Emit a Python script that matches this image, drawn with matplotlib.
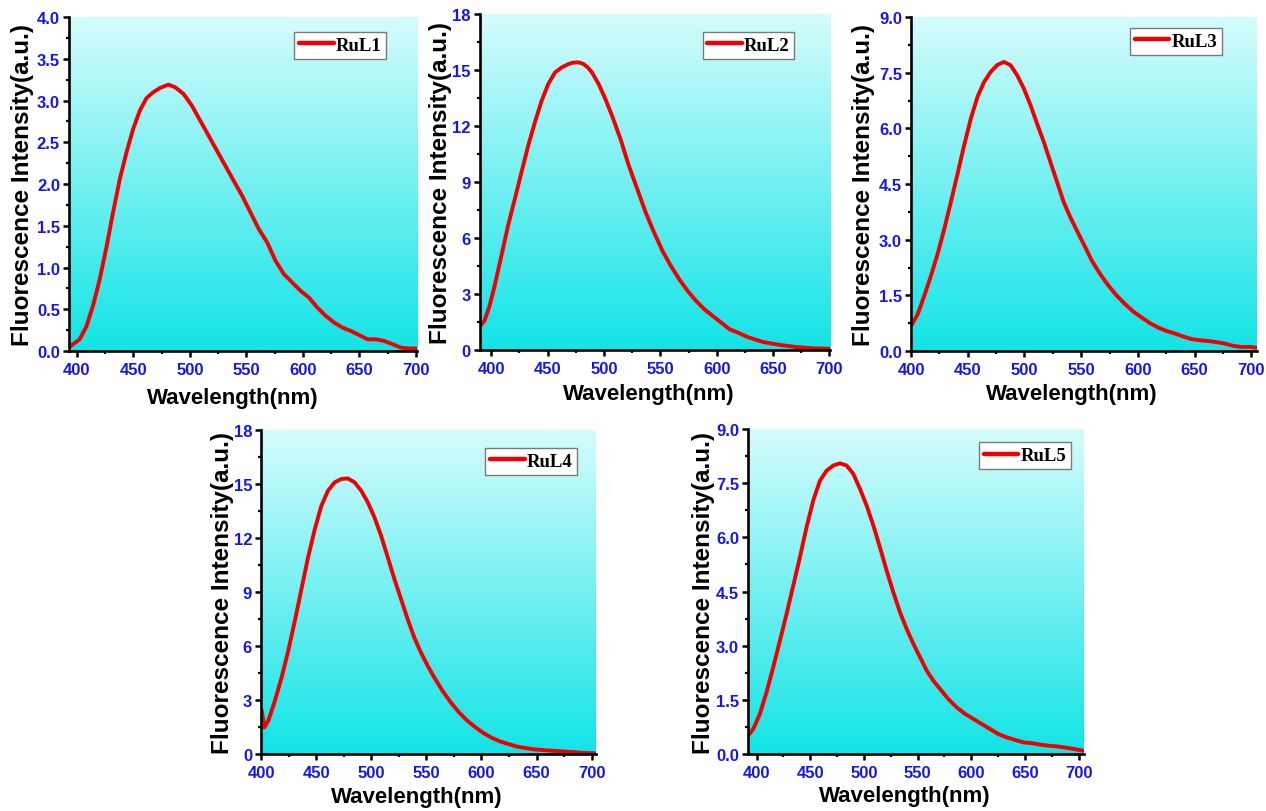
import numpy as np
import matplotlib
matplotlib.use("Agg")
import matplotlib.pyplot as plt
from matplotlib.ticker import MultipleLocator, FormatStrFormatter

# ---------------- data ----------------
labels = ["RuL1", "RuL2", "RuL3", "RuL4", "RuL5"]

wl1 = [393.5, 402.4, 408.3, 414.2, 420.2, 426.1, 432.0, 438.0, 443.9, 449.8, 455.7, 461.7,
       467.6, 473.5, 480.9, 486.9, 494.3, 501.7, 509.1, 516.5, 523.9, 531.3, 538.7, 546.2,
       553.6, 561.0, 568.4, 575.8, 583.2, 590.6, 598.0, 605.4, 612.8, 620.3, 627.7, 635.1,
       642.5, 649.9, 657.3, 664.7, 672.1, 679.5, 687.0, 694.4, 701.0]
in1 = [0.05, 0.14, 0.29, 0.54, 0.86, 1.24, 1.66, 2.06, 2.38, 2.66, 2.88, 3.03,
       3.10, 3.15, 3.19, 3.16, 3.08, 2.94, 2.76, 2.58, 2.40, 2.22, 2.04, 1.86,
       1.66, 1.46, 1.30, 1.08, 0.92, 0.82, 0.72, 0.64, 0.52, 0.42, 0.34, 0.28,
       0.24, 0.19, 0.14, 0.14, 0.12, 0.08, 0.04, 0.03, 0.03]

wl2 = [389.6, 394.0, 398.5, 403.0, 409.0, 414.9, 420.9, 426.8, 432.8, 438.7, 444.7, 450.6,
       456.6, 462.6, 468.5, 472.0, 476.0, 479.0, 481.9, 485.5, 489.4, 495.3, 501.3, 507.2,
       514.7, 522.1, 529.6, 537.0, 544.5, 551.9, 559.4, 566.8, 574.3, 581.7, 589.2, 596.6,
       604.0, 611.5, 619.0, 626.4, 633.8, 641.3, 656.2, 671.1, 686.0, 700.5]
in2 = [1.25, 1.56, 2.36, 3.43, 5.04, 6.65, 8.08, 9.51, 10.94, 12.19, 13.35, 14.25,
       14.87, 15.14, 15.32, 15.39, 15.41, 15.39, 15.32, 15.15, 14.87, 14.25, 13.44, 12.55,
       11.30, 9.87, 8.62, 7.37, 6.29, 5.31, 4.50, 3.79, 3.16, 2.63, 2.18, 1.82,
       1.47, 1.11, 0.93, 0.72, 0.57, 0.43, 0.27, 0.16, 0.09, 0.07]

wl3 = [400.9, 405.9, 411.7, 417.6, 423.4, 429.3, 435.1, 441.0, 446.8, 452.7, 458.5, 464.4,
       470.2, 476.1, 481.9, 487.8, 493.6, 499.5, 505.4, 511.2, 517.1, 522.9, 528.8, 534.6,
       540.5, 546.3, 552.2, 559.5, 566.8, 574.1, 581.4, 588.8, 596.1, 603.4, 610.7, 618.0,
       625.3, 632.7, 640.0, 647.3, 654.6, 661.9, 669.1, 676.6, 683.9, 691.2, 698.5, 704.4]
in3 = [0.72, 0.99, 1.49, 2.03, 2.61, 3.29, 4.01, 4.77, 5.54, 6.26, 6.84, 7.25,
       7.52, 7.71, 7.79, 7.70, 7.43, 7.07, 6.62, 6.12, 5.63, 5.09, 4.55, 4.01,
       3.60, 3.24, 2.88, 2.43, 2.07, 1.76, 1.49, 1.26, 1.06, 0.90, 0.75, 0.63,
       0.54, 0.47, 0.39, 0.32, 0.29, 0.27, 0.24, 0.20, 0.14, 0.11, 0.11, 0.09]

wl4 = [400.6, 403.0, 406.6, 412.6, 418.7, 424.7, 430.7, 436.7, 442.7, 448.8, 454.8, 460.8,
       466.8, 472.8, 478.8, 484.9, 490.9, 496.9, 502.9, 508.9, 515.0, 521.0, 527.0, 533.0,
       539.0, 545.0, 551.1, 557.1, 564.6, 572.1, 579.7, 587.2, 594.7, 602.2, 609.7, 617.3,
       632.3, 647.4, 662.4, 677.5, 692.6, 703.0]
in4 = [2.41, 1.48, 1.85, 2.96, 4.26, 5.74, 7.41, 9.17, 10.93, 12.50, 13.80, 14.63,
       15.09, 15.28, 15.31, 15.09, 14.63, 13.98, 13.15, 12.13, 10.93, 9.72, 8.61, 7.50,
       6.48, 5.65, 4.91, 4.26, 3.52, 2.87, 2.31, 1.85, 1.48, 1.15, 0.89, 0.69,
       0.41, 0.26, 0.19, 0.13, 0.06, 0.04]

wl5 = [393.2, 396.9, 403.1, 409.3, 415.5, 421.8, 428.0, 434.2, 440.4, 446.6, 452.8, 459.1,
       465.3, 471.5, 477.7, 483.9, 490.1, 496.4, 502.6, 508.8, 515.0, 521.2, 527.4, 533.7,
       539.9, 546.1, 552.3, 558.5, 564.7, 571.0, 578.7, 586.5, 594.3, 602.1, 609.8, 617.6,
       625.4, 633.1, 640.9, 648.7, 656.5, 664.2, 672.0, 679.8, 687.5, 695.3, 704.6]
in5 = [0.55, 0.69, 1.11, 1.71, 2.40, 3.14, 3.88, 4.66, 5.45, 6.28, 7.02, 7.57,
       7.85, 7.99, 8.05, 7.99, 7.76, 7.34, 6.88, 6.33, 5.72, 5.08, 4.48, 3.92,
       3.46, 3.05, 2.68, 2.31, 2.03, 1.80, 1.52, 1.29, 1.11, 0.97, 0.83, 0.69,
       0.55, 0.46, 0.39, 0.32, 0.30, 0.26, 0.23, 0.21, 0.18, 0.14, 0.09]

wavelengths = [wl1, wl2, wl3, wl4, wl5]
intensities = [in1, in2, in3, in4, in5]

# ---------------- layout / style ----------------
rects = [(0.0545, 0.5665, 0.2749, 0.4113),
         (0.3791, 0.5677, 0.2765, 0.4138),
         (0.7196, 0.5665, 0.2733, 0.4113),
         (0.2062, 0.0702, 0.2646, 0.3990),
         (0.5908, 0.0702, 0.2654, 0.4002)]
xlims = [(393, 701), (390, 700.5), (400, 705), (400, 704), (392, 705)]
ylims = [(0, 4.0), (0, 18), (0, 9.0), (0, 18), (0, 9.0)]
ymaj = [0.5, 3, 1.5, 3, 1.5]
yfmt = ["%.1f", "%d", "%.1f", "%d", "%.1f"]
leg_anchor = [(0.647, 0.955), (0.636, 0.946), (0.633, 0.967), (0.669, 0.944), (0.688, 0.959)]
ylab_x = [-0.135, -0.112, -0.136, -0.116, -0.131]
xlab_pos = [(0.47, -0.138), (0.483, -0.128), (0.465, -0.126), (0.465, -0.130), (0.467, -0.129)]

tick_blue = "#1616e8"
tick_font = ["Liberation Sans Narrow", "Liberation Sans", "DejaVu Sans"]

fig = plt.figure(figsize=(12.66, 8.12), dpi=100)

top_col = np.array([214, 252, 252]) / 255.0
bot_col = np.array([18, 228, 230]) / 255.0
t = np.linspace(0, 1, 256)[:, None]
grad = (top_col[None, :] * (1 - t) + bot_col[None, :] * t)[:, None, :]

for i in range(5):
    ax = fig.add_axes(rects[i])
    ax.imshow(grad, extent=[0, 1, 0, 1], transform=ax.transAxes,
              aspect="auto", zorder=0, interpolation="bilinear")
    ax.plot(wavelengths[i], intensities[i], color="#f00000", lw=2.8,
            solid_capstyle="round", solid_joinstyle="round", zorder=3, label=labels[i])
    ax.set_xlim(*xlims[i])
    ax.set_ylim(*ylims[i])
    ax.set_autoscale_on(False)

    for s in ["top", "right"]:
        ax.spines[s].set_visible(False)
    for s in ["left", "bottom"]:
        ax.spines[s].set_linewidth(1.9)
        ax.spines[s].set_zorder(4)

    ax.xaxis.set_major_locator(MultipleLocator(50))
    ax.xaxis.set_minor_locator(MultipleLocator(25))
    ax.yaxis.set_major_locator(MultipleLocator(ymaj[i]))
    ax.yaxis.set_minor_locator(MultipleLocator(ymaj[i] / 2))
    ax.xaxis.set_major_formatter(FormatStrFormatter("%d"))
    ax.yaxis.set_major_formatter(FormatStrFormatter(yfmt[i]))
    ax.tick_params(which="major", direction="out", length=4, width=1.8, pad=2.5)
    ax.tick_params(which="minor", direction="out", length=2.5, width=1.6)
    ax.tick_params(axis="x", which="major", pad=4)
    for lab in ax.get_xticklabels() + ax.get_yticklabels():
        lab.set_family(tick_font)
        lab.set_fontweight("bold")
        lab.set_fontsize(12)
        lab.set_color(tick_blue)

    ax.set_ylabel("Fluorescence Intensity(a.u.)", family=["Liberation Sans", "DejaVu Sans"],
                  fontweight="bold", fontsize=17.5, va="center")
    ax.yaxis.set_label_coords(ylab_x[i], 0.5)
    ax.set_xlabel("Wavelength(nm)", family=["Liberation Sans", "DejaVu Sans"],
                  fontweight="bold", fontsize=16, va="center")
    ax.xaxis.set_label_coords(*xlab_pos[i])

    leg = ax.legend(loc="upper left", bbox_to_anchor=leg_anchor[i], borderaxespad=0,
                    fancybox=False, framealpha=1, edgecolor="#7a7a7a",
                    handlelength=1.85, handletextpad=0.1, borderpad=0.25,
                    prop={"family": ["Liberation Serif", "DejaVu Serif"],
                          "weight": "bold", "size": 13.5})
    leg.get_frame().set_linewidth(1.0)
    leg.set_zorder(5)
    for ln in leg.get_lines():
        ln.set_linewidth(3.2)

fig.savefig("out.png", dpi=100)
